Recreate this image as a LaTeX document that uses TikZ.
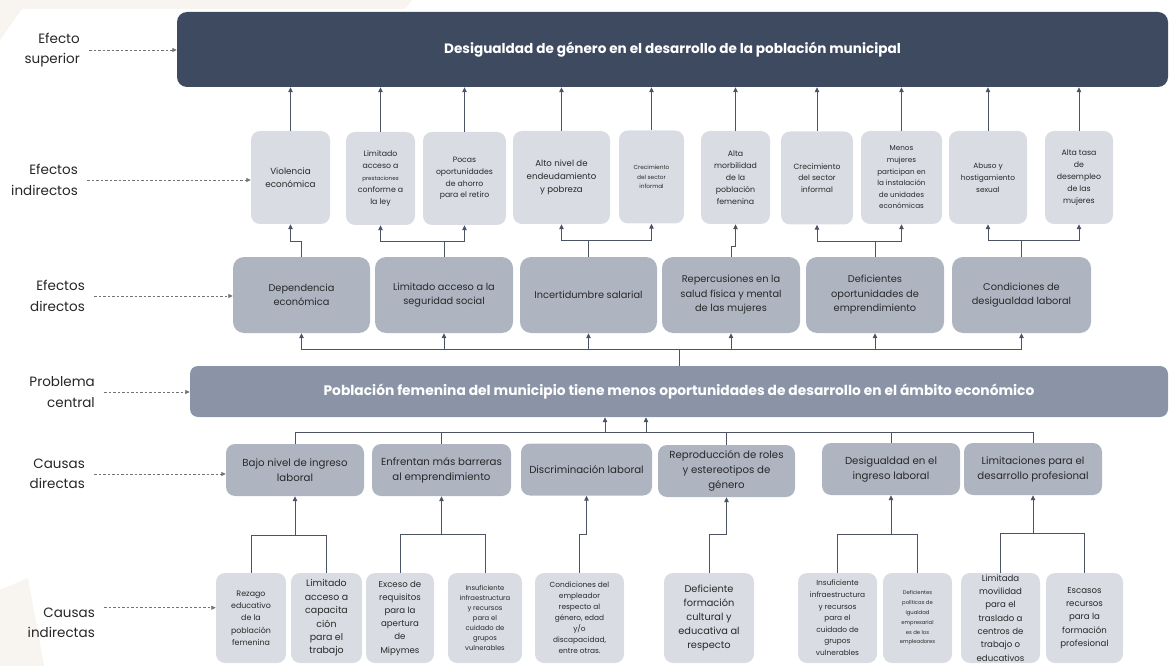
\documentclass[tikz,border=0pt]{standalone}
\usepackage{fontspec}
\setmainfont{Poppins}
\usetikzlibrary{arrows.meta,calc}
\definecolor{cTop}{RGB}{62,74,95}
\definecolor{cCen}{RGB}{138,148,166}
\definecolor{cMid}{RGB}{174,181,193}
\definecolor{cLite}{RGB}{217,221,227}
\definecolor{cLine}{RGB}{75,83,100}
\definecolor{cTxt}{RGB}{40,40,40}
\definecolor{cBeige}{RGB}{248,244,239}
\tikzset{
	fs/.style 2 args={font=\fontsize{#1}{#2}\selectfont},
	box/.style={rounded corners=9pt, align=center, inner sep=1pt, text=cTxt},
	ibox/.style={box, fill=cLite},
	mbox/.style={box, fill=cMid, rounded corners=11pt, fs={9.8}{14.5}},
	lbl/.style={align=right, anchor=east, inner sep=0pt, text=black!85, fs={13.5}{20.5}},
	ln/.style={draw=cLine, line width=1pt},
	arr/.style={ln, -{Triangle[length=5pt,width=4.5pt]}},
	dasharr/.style={draw=black!55, line width=0.8pt, dash pattern=on 2.5pt off 2pt, -{Triangle[length=4.5pt,width=4pt]}},
}

\begin{document}
\begin{tikzpicture}[x=1pt,y=-1pt]
		%%%%% START %%%%%
		\useasboundingbox (0,0) rectangle (1171,666);
		\fill[cBeige] (0,0) -- (412,0) -- (405,9) -- (0,9) -- cycle;
		\fill[cBeige] (0,9) -- (22,9) -- (0,40) -- cycle;
		\fill[cBeige] (0,590) -- (28,578) -- (44,666) -- (0,666) -- cycle;
		
		% efecto superior
		\node[box, fill=cTop, rounded corners=10pt, minimum width=991, minimum height=75, text=white, font=\bfseries\fontsize{13.6}{16}\selectfont] (top) at (672.5,49.5) {Desigualdad de género en el desarrollo de la población municipal};
		
		% efectos indirectos
		\node[ibox, minimum width=79, minimum height=93, fs={8.8}{12.7}] (viol) at (290.5,177.5) {Violencia\\económica};
		\node[ibox, minimum width=69, minimum height=93, fs={7.8}{12}] (pres) at (380.5,178.5) {Limitado\\acceso a\\{\fontsize{5.6}{12}\selectfont prestaciones}\\conforme a\\la ley};
		\node[ibox, minimum width=83, minimum height=93, fs={7.7}{11.8}] (aho) at (464.5,178.5) {Pocas\\oportunidades\\de ahorro\\para el retiro};
		\node[ibox, minimum width=97, minimum height=93, fs={8.6}{13}] (endeu) at (561.5,177.5) {Alto nivel de\\endeudamiento\\y pobreza};
		\node[ibox, minimum width=65, minimum height=93, fs={5.8}{9.5}] (cinfa) at (651.5,177) {Crecimiento\\del sector\\informal};
		\node[ibox, minimum width=69, minimum height=93, fs={7.8}{12}] (morb) at (735.5,177.5) {Alta\\morbilidad\\de la\\población\\femenina};
		\node[ibox, minimum width=72, minimum height=93, fs={7.6}{11.5}] (cinfb) at (817,178) {Crecimiento\\del sector\\informal};
		\node[ibox, minimum width=81, minimum height=93, fs={7.2}{11.6}] (menos) at (901.5,177.5) {Menos\\mujeres\\participan en\\la instalación\\de unidades\\económicas};
		\node[ibox, minimum width=78, minimum height=93, fs={7.4}{12}] (abuso) at (988,177.5) {Abuso y\\hostigamiento\\sexual};
		\node[ibox, minimum width=68, minimum height=93, fs={7.8}{12}] (tasa) at (1079,177.5) {Alta tasa\\de\\desempleo\\de las\\mujeres};
		
		\foreach \n in {viol,pres,aho,endeu,cinfa,morb,cinfb,menos,abuso,tasa}
			\draw[arr] (\n.north) -- (\n.north |- top.south);
		
		% efectos directos
		\node[mbox, minimum width=137, minimum height=76] (dep) at (301.5,295) {Dependencia\\económica};
		\node[mbox, minimum width=138, minimum height=76] (seg) at (444,295) {Limitado acceso a la\\seguridad social};
		\node[mbox, minimum width=137, minimum height=76] (inc) at (588.5,295) {Incertidumbre salarial};
		\node[mbox, minimum width=138, minimum height=76] (rep) at (731,295) {Repercusiones en la\\salud física y mental\\de las mujeres};
		\node[mbox, minimum width=138, minimum height=76] (emp) at (875,295) {Deficientes\\oportunidades de\\emprendimiento};
		\node[mbox, minimum width=139, minimum height=76] (cond) at (1021.5,295) {Condiciones de\\desigualdad laboral};
		
		\draw[arr] (dep.north) -- ++(0,-15) -| (viol.south);
		\draw[ln] (seg.north) -- ++(0,-15) coordinate (sj);
		\draw[arr] (sj) -| (pres.south);
		\draw[arr] (sj) -| (aho.south);
		\draw[ln] (inc.north) -- ++(0,-16) coordinate (ij);
		\draw[arr] (ij) -| (endeu.south);
		\draw[arr] (ij) -| (cinfa.south);
		\draw[arr] (rep.north) -- ++(0,-10) -| (morb.south);
		\draw[ln] (emp.north) -- ++(0,-15) coordinate (ej);
		\draw[arr] (ej) -| (cinfb.south);
		\draw[arr] (ej) -| (menos.south);
		\draw[ln] (cond.north) -- ++(0,-16) coordinate (cj);
		\draw[arr] (cj) -| (abuso.south);
		\draw[arr] (cj) -| (tasa.south);
		
		% problema central
		\node[box, fill=cCen, rounded corners=8pt, minimum width=978, minimum height=51, text=white, font=\bfseries\fontsize{13.8}{16}\selectfont] (cen) at (679,391.5) {Población femenina del municipio tiene menos oportunidades de desarrollo en el ámbito económico};
		
		\draw[ln] (cen.north) -- ++(0,-16) coordinate (pj);
		\foreach \n in {dep,seg,inc,rep,emp,cond}
			\draw[arr] (pj) -| (\n.south);
		
		% causas directas
		\node[mbox, rounded corners=9pt, minimum width=138, minimum height=52, fs={10.2}{15}] (bajo) at (295,470) {Bajo nivel de ingreso\\laboral};
		\node[mbox, rounded corners=9pt, minimum width=139, minimum height=52, fs={10.2}{15}] (barr) at (441.5,470) {Enfrentan más barreras\\al emprendimiento};
		\node[mbox, rounded corners=9pt, minimum width=131, minimum height=52, fs={10.2}{15}] (disc) at (586.5,469.5) {Discriminación laboral};
		\node[mbox, rounded corners=9pt, minimum width=137, minimum height=52, fs={10.2}{15}] (rrol) at (726.5,471) {Reproducción de roles\\y estereotipos de\\género};
		\node[mbox, rounded corners=9pt, minimum width=138, minimum height=52, fs={10.2}{15}] (ding) at (891,469) {Desigualdad en el\\ingreso laboral};
		\node[mbox, rounded corners=9pt, minimum width=138, minimum height=52, fs={10.2}{15}] (lprof) at (1033,469) {Limitaciones para el\\desarrollo profesional};
		
		\path (cen.south) ++(0,15) coordinate (qj);
		\foreach \n in {bajo,barr,rrol,ding,lprof}
			\draw[ln] (qj) -| (\n.north);
		\coordinate (qa) at (605,432);
		\coordinate (qb) at (646,432);
		\draw[arr] (qa) -- (qa |- cen.south);
		\draw[arr] (qb) -- (qb |- cen.south);
		
		% causas indirectas
		\node[ibox, minimum width=70, minimum height=90, fs={7.9}{12.3}] (rez) at (251,618) {Rezago\\educativo\\de la\\población\\femenina};
		\node[ibox, minimum width=71, minimum height=90, fs={9.4}{13.4}] (lac) at (326.5,618) {Limitado\\acceso a\\capacita\\ción\\para el\\trabajo};
		\node[ibox, minimum width=68, minimum height=90, fs={8.6}{13.2}] (exc) at (400,618) {Exceso de\\requisitos\\para la\\apertura\\de\\Mipymes};
		\node[ibox, minimum width=74, minimum height=90, fs={6.8}{10.1}] (insa) at (485,618) {Insuficiente\\infraestructura\\y recursos\\para el\\cuidado de\\grupos\\vulnerables};
		\node[ibox, minimum width=89, minimum height=90, fs={7.4}{11}] (cemp) at (579.5,618) {Condiciones del\\empleador\\respecto al\\género, edad\\y/o\\discapacidad,\\entre otras.};
		\node[ibox, minimum width=90, minimum height=90, fs={9.8}{14}] (dform) at (709,618) {Deficiente\\formación\\cultural y\\educativa al\\respecto};
		\node[ibox, minimum width=79, minimum height=90, fs={7.4}{11.6}] (insb) at (837.5,618) {Insuficiente\\infraestructura\\y recursos\\para el\\cuidado de\\grupos\\vulnerables};
		\node[ibox, minimum width=69, minimum height=90, fs={5.3}{9.8}] (dpol) at (917.5,618) {Deficientes\\políticas de\\igualdad\\empresarial\\es de los\\empleadores};
		\node[ibox, minimum width=79, minimum height=90, fs={8.6}{13.3}] (lmov) at (1000.5,618) {Limitada\\movilidad\\para el\\traslado a\\centros de\\trabajo o\\educativos};
		\node[ibox, minimum width=77, minimum height=90, fs={8.6}{13.2}] (esc) at (1084.5,618) {Escasos\\recursos\\para la\\formación\\profesional};
		
		\path (bajo.south) ++(0,39) coordinate (bj);
		\draw[ln] (rez.north) |- (bj) -| (lac.north);
		\draw[arr] (bj) -- (bajo.south);
		\path (barr.south) ++(0,38) coordinate (rj);
		\draw[ln] (exc.north) |- (rj) -| (insa.north);
		\draw[arr] (rj) -- (barr.south);
		\draw[arr] (cemp.north) -- ++(0,-38) -| (disc.south);
		\draw[arr] (dform.north) -- ++(0,-38) -| (rrol.south);
		\path (ding.south) ++(0,39) coordinate (dj);
		\draw[ln] (insb.north) |- (dj) -| (dpol.north);
		\draw[arr] (dj) -- (ding.south);
		\path (lprof.south) ++(0,38) coordinate (lj);
		\draw[ln] (lmov.north) |- (lj) -| (esc.north);
		\draw[arr] (lj) -- (lprof.south);
		
		% niveles
		\node[lbl] (les) at (80,50) {Efecto\\superior};
		\node[lbl] (lei) at (78,180) {Efectos\\indirectos};
		\node[lbl] (led) at (85,296) {Efectos\\directos};
		\node[lbl] (lpc) at (95,392) {Problema\\central};
		\node[lbl] (lcd) at (85,474) {Causas\\directas};
		\node[lbl] (lci) at (95,623) {Causas\\indirectas};
		
		\draw[dasharr] ($(les.east)+(9,0)$) -- (les.east -| top.west);
		\draw[dasharr] ($(lei.east)+(9,0)$) -- (lei.east -| viol.west);
		\draw[dasharr] ($(led.east)+(9,0)$) -- (led.east -| dep.west);
		\draw[dasharr] ($(lpc.east)+(9,0)$) -- (lpc.east -| cen.west);
		\draw[dasharr] ($(lcd.east)+(9,0)$) -- (lcd.east -| bajo.west);
		\draw[dasharr] ($(lci.north east)+(9,0)$) -- (lci.north east -| rez.west);
		
		%%%%% END %%%%%
\end{tikzpicture}
\end{document}
